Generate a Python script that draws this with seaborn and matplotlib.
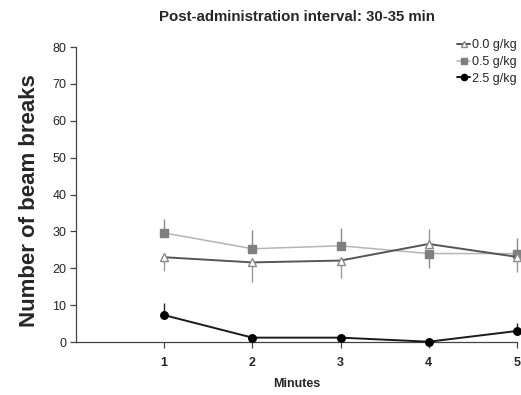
import pandas as pd
import matplotlib.pyplot as plt
import seaborn as sns

minutes = [1, 2, 3, 4, 5]
doses = ['0.0 g/kg', '0.5 g/kg', '2.5 g/kg']

mean_00 = [23.0, 21.6, 22.1, 26.6, 23.1]
mean_05 = [29.6, 25.3, 26.1, 24.0, 24.0]
mean_25 = [7.3, 1.2, 1.2, 0.1, 3.0]

# one-sided SEM bars
up_00 = [0, 0, 0, 4.0, 0]
down_00 = [3.7, 5.3, 4.8, 0, 4.1]
up_05 = [3.9, 5.1, 4.7, 0, 4.1]
down_05 = [0, 0, 0, 3.8, 0]
up_25 = [3.3, 0.2, 0.2, 0, 2.2]
down_25 = [0, 0, 0, 0, 0]

df = pd.DataFrame({
    'Minutes': minutes * 3,
    'Beam breaks': mean_00 + mean_05 + mean_25,
    'Dose': [d for d in doses for _ in minutes],
})

sns.set_style('ticks')
plt.rcParams['font.family'] = ['Liberation Sans', 'DejaVu Sans']

fig = plt.figure(figsize=(5.21, 3.95), dpi=100)
ax = fig.add_axes([0.146, 0.134, 0.846, 0.747])

styles = {
    '0.0 g/kg': dict(color='#555555', marker='^', mfc='white', mec='#8a8a8a', ms=6.0, lw=1.4, ecol='#9a9a9a',
                     up=up_00, down=down_00, z=3),
    '0.5 g/kg': dict(color='#b5b5b5', marker='s', mfc='#7f7f7f', mec='#7f7f7f', ms=5.3, lw=1.1, ecol='#8a8a8a',
                     up=up_05, down=down_05, z=2),
    '2.5 g/kg': dict(color='#1a1a1a', marker='o', mfc='black', mec='black', ms=5.4, lw=1.4, ecol='#222222',
                     up=up_25, down=down_25, z=4),
}

for dose in doses:
    st = styles[dose]
    sub = df[df['Dose'] == dose]
    ax.errorbar(sub['Minutes'], sub['Beam breaks'], yerr=[st['down'], st['up']], fmt='none',
                ecolor=st['ecol'], elinewidth=1.0, capsize=0, zorder=st['z'] - 0.5, clip_on=False)
    sns.lineplot(data=sub, x='Minutes', y='Beam breaks', ax=ax, color=st['color'], lw=st['lw'],
                 marker=st['marker'], markerfacecolor=st['mfc'], markeredgecolor=st['mec'],
                 markeredgewidth=1.0, markersize=st['ms'], label=dose, zorder=st['z'], clip_on=False)

ax.set_xlim(0, 5)
ax.set_ylim(0, 80)
ax.set_xticks(minutes)
ax.set_yticks(range(0, 81, 10))
ax.tick_params(axis='both', labelsize=9, length=4, width=0.9, color='#444444', pad=3)
ax.tick_params(axis='x', pad=7)
for lbl in ax.get_xticklabels():
    lbl.set_fontweight('bold')
sns.despine(ax=ax)
for sp in ['left', 'bottom']:
    ax.spines[sp].set_color('#444444')
    ax.spines[sp].set_linewidth(0.9)

ax.set_xlabel('Minutes', fontsize=9, fontweight='bold', labelpad=6)
ax.set_ylabel('Number of beam breaks', fontsize=16, fontweight='bold')
ax.yaxis.set_label_coords(-0.082, 0.48)
ax.set_title('Post-administration interval: 30-35 min', fontsize=10.8, fontweight='bold', pad=19)

leg = ax.legend(loc='upper right', bbox_to_anchor=(1.012, 1.043), frameon=False, fontsize=9,
                handlelength=1.0, handletextpad=0.2, labelspacing=0.37, borderaxespad=0)
for h in leg.legend_handles:
    h.set_markersize(4.5)

fig.savefig('out.png', dpi=100)
